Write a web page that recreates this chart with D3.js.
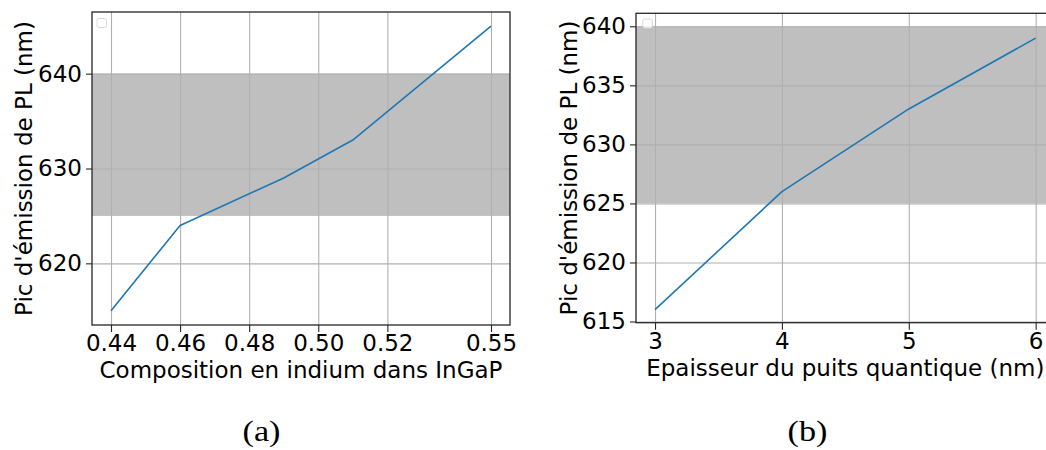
<!DOCTYPE html>
<html>
<head>
<meta charset="utf-8">
<script src="https://cdn.jsdelivr.net/npm/d3@7"></script>
<style>
  html, body { margin: 0; padding: 0; background: #fff; }
  svg { display: block; }
  text { font-family: "DejaVu Sans", sans-serif; fill: #000; }
</style>
</head>
<body>
<svg id="chart" width="1046" height="450"></svg>
<script>
// ---------- data ----------
const compX = [0.44, 0.46, 0.49, 0.51, 0.55];
const compY = [615, 624, 629, 633, 645];
const compTicksX = [0.44, 0.46, 0.48, 0.50, 0.52, 0.55];
const compTicksY = [620, 630, 640];

const thickX = [3, 4, 5, 6];
const thickY = [616, 626, 633, 639];
const thickTicksX = [3, 4, 5, 6];
const thickTicksY = [615, 620, 625, 630, 635, 640];

const bandRange = [625, 640];

const labelsA = { x: "Composition en indium dans InGaP", y: "Pic d'émission de PL (nm)", cap: "(a)" };
const labelsB = { x: "Epaisseur du puits quantique (nm)", y: "Pic d'émission de PL (nm)", cap: "(b)" };

// ---------- drawing ----------
const svg = d3.select("#chart");
const FS = 23;

function panel(opt) {
  const { box, xDom, yDom, xs, ys, xTicks, yTicks, xFmt, yFmt, labels, ylabX, xlabY, capX, legend } = opt;
  const x = d3.scaleLinear().domain(xDom).range([box.x0, box.x1]);
  const y = d3.scaleLinear().domain(yDom).range([box.y1, box.y0]);
  const g = svg.append("g");
  const clipId = "clip" + Math.round(box.x0);
  svg.append("clipPath").attr("id", clipId).append("rect")
    .attr("x", box.x0).attr("y", box.y0).attr("width", box.x1 - box.x0).attr("height", box.y1 - box.y0);
  const plot = g.append("g").attr("clip-path", `url(#${clipId})`);

  // band
  plot.append("rect")
    .attr("x", box.x0).attr("width", box.x1 - box.x0)
    .attr("y", y(bandRange[1])).attr("height", y(bandRange[0]) - y(bandRange[1]))
    .attr("fill", "#808080").attr("fill-opacity", 0.5);

  // grid
  const gx = plot.append("g").attr("transform", `translate(0,${box.y1})`)
    .call(d3.axisBottom(x).tickValues(xTicks).tickSize(-(box.y1 - box.y0)).tickFormat(""));
  const gy = plot.append("g").attr("transform", `translate(${box.x0},0)`)
    .call(d3.axisLeft(y).tickValues(yTicks).tickSize(-(box.x1 - box.x0)).tickFormat(""));
  [gx, gy].forEach(a => {
    a.select(".domain").remove();
    a.selectAll("line").attr("stroke", "#b0b0b0").attr("stroke-width", 1.1);
  });

  // line
  const pts = xs.map((v, i) => [v, ys[i]]);
  plot.append("path").datum(pts)
    .attr("fill", "none").attr("stroke", "#1f77b4").attr("stroke-width", 1.6)
    .attr("stroke-linejoin", "round")
    .attr("d", d3.line().x(d => x(d[0])).y(d => y(d[1])));

  // legend (empty)
  g.append("rect")
    .attr("x", legend[0]).attr("y", legend[1]).attr("width", 9.5).attr("height", 9).attr("rx", 2)
    .attr("fill", "#fff").attr("fill-opacity", 0.8).attr("stroke", "#d8d8d8").attr("stroke-width", 1);

  // spines
  g.append("rect")
    .attr("x", box.x0).attr("y", box.y0).attr("width", box.x1 - box.x0).attr("height", box.y1 - box.y0)
    .attr("fill", "none").attr("stroke", "#262626").attr("stroke-width", 1.3);

  // axes
  const ax = g.append("g").attr("transform", `translate(0,${box.y1})`)
    .call(d3.axisBottom(x).tickValues(xTicks).tickSize(7).tickPadding(3).tickFormat(xFmt));
  const ay = g.append("g").attr("transform", `translate(${box.x0},0)`)
    .call(d3.axisLeft(y).tickValues(yTicks).tickSize(6).tickPadding(4).tickFormat(yFmt));
  [ax, ay].forEach(a => {
    a.select(".domain").remove();
    a.selectAll("line").attr("stroke", "#262626").attr("stroke-width", 1.1);
    a.selectAll("text").attr("font-size", FS).attr("font-family", "DejaVu Sans").attr("fill", "#000");
  });

  // axis labels
  g.append("text").attr("x", (box.x0 + box.x1) / 2).attr("y", xlabY)
    .attr("text-anchor", "middle").attr("font-size", FS).text(labels.x);
  g.append("text")
    .attr("transform", `translate(${ylabX},${(box.y0 + box.y1) / 2}) rotate(-90)`)
    .attr("text-anchor", "middle").attr("font-size", FS).text(labels.y);

  // caption
  svg.append("text")
    .attr("transform", `translate(${capX},441) scale(1.14,1)`)
    .attr("text-anchor", "middle").attr("font-size", 30)
    .style("font-family", "'Liberation Serif', 'DejaVu Serif', serif")
    .text(labels.cap);
}

panel({
  box: { x0: 92, x1: 510, y0: 12, y1: 325 },
  xDom: [0.4345, 0.5555], yDom: [613.5, 646.5],
  xs: compX, ys: compY, xTicks: compTicksX, yTicks: compTicksY,
  xFmt: d3.format(".2f"), yFmt: d3.format("d"),
  labels: labelsA, ylabX: 32, xlabY: 378, capX: 261.5, legend: [97, 18.5]
});

panel({
  box: { x0: 636, x1: 1054.7, y0: 13.3, y1: 322.7 },
  xDom: [2.85, 6.15], yDom: [614.9, 641.1],
  xs: thickX, ys: thickY, xTicks: thickTicksX, yTicks: thickTicksY,
  xFmt: d3.format("d"), yFmt: d3.format("d"),
  labels: labelsB, ylabX: 577, xlabY: 375.5, capX: 807.5, legend: [642.8, 19]
});
</script>
</body>
</html>
